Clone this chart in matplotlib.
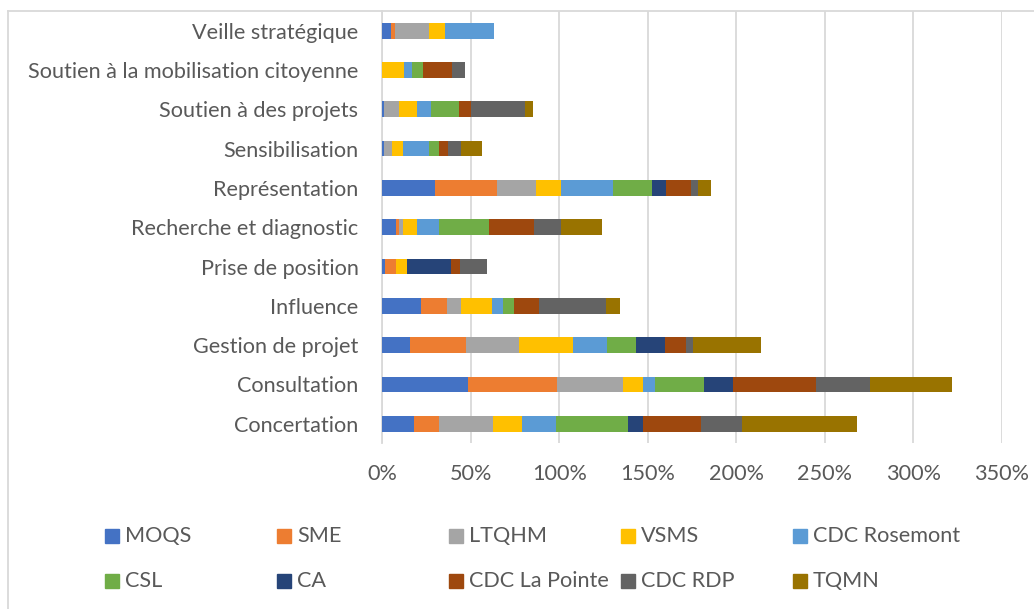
import matplotlib.pyplot as plt
from matplotlib.lines import Line2D
from matplotlib.patches import Rectangle
from matplotlib.ticker import PercentFormatter

plt.rcParams['font.family'] = ['Lato', 'DejaVu Sans']

# categories listed bottom -> top (as drawn)
categories = ['Concertation', 'Consultation', 'Gestion de projet', 'Influence',
              'Prise de position', 'Recherche et diagnostic', 'Représentation',
              'Sensibilisation', 'Soutien à des projets',
              'Soutien à la mobilisation citoyenne', 'Veille stratégique']

series_names = ['MOQS', 'SME', 'LTQHM', 'VSMS', 'CDC Rosemont',
                'CSL', 'CA', 'CDC La Pointe', 'CDC RDP', 'TQMN']

moqs = [17.8, 48.3, 15.6, 22.2, 1.5, 7.7, 30.1, 1.3, 1.3, 0, 5.2]
sme = [14.3, 50.7, 32.1, 14.3, 6.2, 1.7, 34.9, 0, 0, 0, 1.9]
ltqhm = [30.3, 37.0, 29.9, 7.9, 0, 2.6, 22.0, 4.1, 8.1, 0, 19.7]
vsms = [16.5, 11.3, 30.4, 17.9, 6.6, 7.7, 14.1, 6.6, 10.3, 12.4, 8.8]
cdc_rosemont = [19.2, 6.6, 19.2, 6.0, 0, 12.6, 29.3, 14.3, 7.9, 4.5, 27.4]
csl = [41.0, 28.0, 16.3, 6.2, 0, 28.2, 21.8, 6.0, 16.0, 6.2, 0]
ca = [8.3, 16.5, 16.3, 0, 24.8, 0, 8.3, 0, 0, 0, 0]
cdc_la_pointe = [32.5, 46.6, 11.8, 13.9, 4.7, 25.5, 13.9, 4.7, 6.9, 16.2, 0]
cdc_rdp = [23.1, 30.4, 3.8, 38.3, 15.6, 15.2, 4.1, 7.7, 30.4, 7.7, 0]
tqmn = [65.4, 46.2, 38.3, 7.5, 0, 23.1, 7.2, 11.6, 4.3, 0, 0]

values = [moqs, sme, ltqhm, vsms, cdc_rosemont, csl, ca, cdc_la_pointe, cdc_rdp, tqmn]
colors = ['#4472C4', '#ED7D31', '#A5A5A5', '#FFC000', '#5B9BD5',
          '#70AD47', '#264478', '#9E480E', '#636363', '#997300']

text_color = '#595959'
grid_color = '#D9D9D9'
fs = 15.6

fig = plt.figure(figsize=(10.34, 6.09), dpi=100)
ax = fig.add_axes([382 / 1034, 1 - 443.4 / 609, 620 / 1034, 432.4 / 609])

y = list(range(len(categories)))
left = [0.0] * len(categories)
for name, vals, col in zip(series_names, values, colors):
    ax.barh(y, vals, left=left, height=0.4, color=col, label=name, zorder=3)
    left = [l + v for l, v in zip(left, vals)]

ax.set_xlim(0, 350)
ax.set_ylim(-0.5, len(categories) - 0.5)
ax.set_xticks(range(0, 351, 50))
ax.xaxis.set_major_formatter(PercentFormatter(xmax=100, decimals=0))
ax.set_yticks(y)
ax.set_yticklabels(categories)
ax.tick_params(axis='both', length=0, labelsize=fs, labelcolor=text_color)
ax.tick_params(axis='x', pad=15)
ax.tick_params(axis='y', pad=17)
ax.grid(axis='x', color=grid_color, linewidth=1.3, zorder=0)
for s in ['top', 'right', 'bottom']:
    ax.spines[s].set_visible(False)
ax.spines['left'].set_color(grid_color)
ax.spines['left'].set_linewidth(1.3)

# chart-area border (left and top edges visible)
fig.add_artist(Line2D([7.5 / 1034, 7.5 / 1034], [0, 1 - 11 / 609],
                      transform=fig.transFigure, color=grid_color, linewidth=1.3))
fig.add_artist(Line2D([7.5 / 1034, 1], [1 - 11 / 609, 1 - 11 / 609],
                      transform=fig.transFigure, color=grid_color, linewidth=1.3))

# legend laid out in equal columns, like the source
for i, (name, col) in enumerate(zip(series_names, colors)):
    c, r = i % 5, i // 5
    x0 = 105 + c * 172
    yc = 536 + r * 45
    fig.add_artist(Rectangle((x0 / 1034, 1 - (yc + 7) / 609), 14 / 1034, 14 / 609,
                             transform=fig.transFigure, color=col))
    fig.text((x0 + 20) / 1034, 1 - yc / 609, name, fontsize=fs,
             color=text_color, va='center', ha='left')

fig.savefig('out.png', dpi=100)
